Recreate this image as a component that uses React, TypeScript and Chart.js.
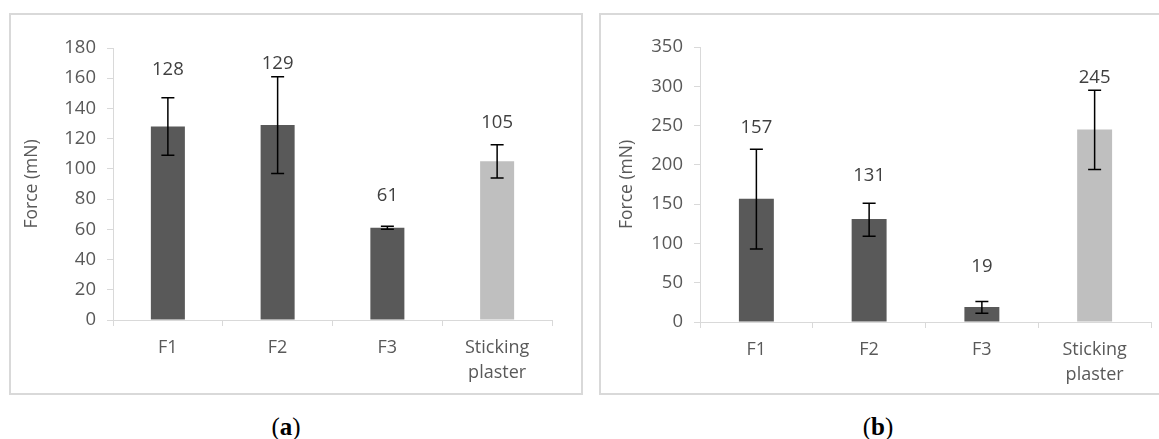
import React, { useEffect, useRef } from "react";
import { Chart, registerables } from "chart.js";

Chart.register(...registerables);

// ---------- Data ----------
const categories: string[][] = [["F1"], ["F2"], ["F3"], ["Sticking", "plaster"]];

// Panel (a)
const meansA = [128, 129, 61, 105];
const errLowA = [109, 97, 60, 94];
const errHighA = [147, 161, 62, 116];
const yMinA = 0;
const yMaxA = 180;
const yStepA = 20;

// Panel (b)
const meansB = [157, 131, 19, 245];
const errLowB = [93, 109, 11, 194];
const errHighB = [220, 151, 26, 295];
const yMinB = 0;
const yMaxB = 350;
const yStepB = 50;

const axisTitle = "Force (mN)";

// ---------- Styles ----------
const FONT = "'Open Sans', 'DejaVu Sans', sans-serif";
const barColors = ["#595959", "#595959", "#595959", "#bfbfbf"];
const axisGray = "#d9d9d9";
const textGray = "#595959";

const errorBarPlugin = {
  id: "errorBars",
  afterDatasetsDraw(chart: any, _args: any, opts: any) {
    const { ctx } = chart;
    const meta = chart.getDatasetMeta(0);
    const y = chart.scales.y;
    const values = chart.data.datasets[0].data as number[];
    ctx.save();
    meta.data.forEach((bar: any, i: number) => {
      const x = bar.x;
      const top = y.getPixelForValue(opts.high[i]);
      const bot = y.getPixelForValue(opts.low[i]);
      const half = opts.cap / 2;
      ctx.strokeStyle = opts.color;
      ctx.lineWidth = opts.lineWidth;
      ctx.beginPath();
      ctx.moveTo(x, top);
      ctx.lineTo(x, bot);
      ctx.moveTo(x - half, top);
      ctx.lineTo(x + half, top);
      ctx.moveTo(x - half, bot);
      ctx.lineTo(x + half, bot);
      ctx.stroke();
      ctx.fillStyle = opts.labelColor;
      ctx.font = opts.labelFont;
      ctx.textAlign = "center";
      ctx.textBaseline = "middle";
      ctx.fillText(String(values[i]), x, top - opts.lift[i]);
    });
    ctx.restore();
  },
};

type PanelProps = {
  means: number[];
  low: number[];
  high: number[];
  yMin: number;
  yMax: number;
  yStep: number;
  width: number;
  height: number;
  yAxisWidth: number;
  xAxisHeight: number;
  padTop: number;
  padRight: number;
  titlePad: number;
  lift: number[];
};

function Panel(p: PanelProps) {
  const ref = useRef<HTMLCanvasElement | null>(null);
  useEffect(() => {
    if (!ref.current) return;
    const chart = new Chart(ref.current, {
      type: "bar",
      data: {
        labels: categories,
        datasets: [
          {
            data: p.means,
            backgroundColor: barColors,
            borderWidth: 0,
            barPercentage: 0.31,
            categoryPercentage: 1,
          },
        ],
      },
      plugins: [errorBarPlugin as any],
      options: {
        animation: false,
        responsive: false,
        devicePixelRatio: 1,
        layout: { padding: { left: 0, top: p.padTop, right: p.padRight, bottom: 0 } },
        plugins: {
          legend: { display: false },
          tooltip: { enabled: false },
          errorBars: {
            low: p.low,
            high: p.high,
            cap: 13,
            lineWidth: 1.5,
            color: "#000000",
            labelColor: "#404040",
            labelFont: `18.5px ${FONT}`,
            lift: p.lift,
          },
        } as any,
        scales: {
          x: {
            grid: {
              display: true,
              drawOnChartArea: false,
              drawTicks: true,
              tickLength: 6,
              color: axisGray,
              offset: true,
            },
            border: { display: true, color: axisGray, width: 1 },
            ticks: {
              color: textGray,
              font: { family: FONT, size: 18, lineHeight: 1.42 },
              padding: 9,
              maxRotation: 0,
              autoSkip: false,
            },
            afterFit: (s: any) => {
              s.height = p.xAxisHeight;
            },
          },
          y: {
            min: p.yMin,
            max: p.yMax,
            grid: {
              display: true,
              drawOnChartArea: false,
              drawTicks: true,
              tickLength: 6,
              color: axisGray,
            },
            border: { display: true, color: axisGray, width: 1 },
            ticks: {
              stepSize: p.yStep,
              color: textGray,
              font: { family: FONT, size: 18.5 },
              padding: 11,
            },
            title: {
              display: true,
              text: axisTitle,
              color: textGray,
              font: { family: FONT, size: 17.5 },
              padding: { top: p.titlePad, bottom: 0 },
            },
            afterFit: (s: any) => {
              s.width = p.yAxisWidth;
            },
          },
        },
      },
    });
    return () => chart.destroy();
  }, []);
  return <canvas ref={ref} width={p.width} height={p.height} style={{ display: "block" }} />;
}

const boxStyle = (left: number, width: number): React.CSSProperties => ({
  position: "absolute",
  left,
  top: 13,
  width,
  height: 382,
  boxSizing: "border-box",
  border: `2px solid ${axisGray}`,
  background: "#ffffff",
});

const captionStyle = (center: number): React.CSSProperties => ({
  position: "absolute",
  left: center - 100,
  width: 200,
  top: 413,
  height: 28,
  lineHeight: "28px",
  textAlign: "center",
  fontFamily: "'Liberation Serif', 'DejaVu Serif', serif",
  fontSize: 25,
  color: "#000000",
});

export default function App() {
  return (
    <div
      style={{
        position: "absolute",
        left: 0,
        top: 0,
        width: 1159,
        height: 439,
        overflow: "hidden",
        background: "#ffffff",
      }}
    >
      <div style={boxStyle(9, 574)}>
        <Panel
          means={meansA}
          low={errLowA}
          high={errHighA}
          yMin={yMinA}
          yMax={yMaxA}
          yStep={yStepA}
          width={570}
          height={378}
          yAxisWidth={102}
          xAxisHeight={73}
          padTop={33}
          padRight={29}
          titlePad={11}
          lift={[28, 13, 31, 22]}
        />
      </div>
      <div style={boxStyle(599, 564)}>
        <Panel
          means={meansB}
          low={errLowB}
          high={errHighB}
          yMin={yMinB}
          yMax={yMaxB}
          yStep={yStepB}
          width={560}
          height={378}
          yAxisWidth={99}
          xAxisHeight={71}
          padTop={32}
          padRight={10}
          titlePad={16}
          lift={[21, 28, 35, 12]}
        />
      </div>
      <div style={captionStyle(286)}>
        (<b>a</b>)
      </div>
      <div style={captionStyle(878)}>
        (<b>b</b>)
      </div>
    </div>
  );
}
